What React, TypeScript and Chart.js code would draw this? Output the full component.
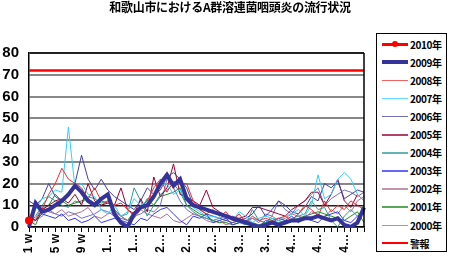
import React, { useEffect, useRef } from "react";
import { Chart, registerables } from "chart.js";

Chart.register(...registerables);

const TITLE = "和歌山市におけるA群溶連菌咽頭炎の流行状況";
const weeks: string[] = Array.from({ length: 52 }, (_, i) => `${i + 1}w`);
const tickLabels = ["1 w", "5 w", "9 w", "1…", "1…", "2…", "2…", "2…", "3…", "3…", "4…", "4…", "4…"];
const yTicks = [0, 10, 20, 30, 40, 50, 60, 70, 80];

const s2010 = [3];
const s2009 = [0, 11, 7, 8, 10, 12, 15, 19, 16, 12, 10, 13, 15, 6, 2, 0, 6, 9, 10, 14, 20, 24, 19, 22, 13, 10, 9, 8, 7, 6, 5, 4, 3, 2, 1, 0, 1, 2, 1, 2, 3, 3, 4, 4, 5, 4, 3, 4, 1, 0, 2, 9];
const s2008 = [3, 12, 8, 15, 20, 27, 22, 20, 18, 13, 18, 12, 11, 10, 11, 8, 5, 9, 12, 18, 22, 16, 21, 20, 20, 12, 8, 6, 8, 5, 7, 3, 6, 2, 5, 3, 4, 3, 4, 5, 3, 6, 10, 8, 5, 12, 7, 10, 8, 12, 10, 8];
const s2007 = [1, 8, 13, 14, 17, 16, 46, 18, 20, 15, 14, 8, 6, 10, 5, 7, 13, 10, 12, 15, 19, 20, 15, 17, 12, 9, 7, 5, 5, 4, 6, 3, 7, 5, 2, 4, 5, 4, 3, 5, 6, 8, 5, 10, 24, 13, 15, 22, 25, 22, 15, 12];
const s2006 = [12, 10, 13, 20, 14, 12, 14, 20, 33, 22, 17, 22, 17, 14, 12, 10, 8, 12, 18, 15, 17, 23, 25, 22, 18, 10, 8, 6, 5, 4, 3, 2, 3, 4, 6, 10, 5, 8, 12, 10, 7, 6, 9, 14, 12, 20, 18, 21, 13, 15, 17, 16];
const s2005 = [5, 3, 8, 10, 12, 13, 11, 15, 10, 20, 12, 10, 11, 10, 18, 8, 6, 13, 7, 23, 14, 18, 29, 15, 14, 12, 10, 17, 9, 7, 5, 3, 4, 5, 9, 9, 8, 7, 6, 5, 8, 10, 12, 16, 16, 10, 15, 22, 12, 9, 15, 12];
const s2004 = [2, 5, 10, 14, 12, 10, 9, 12, 11, 14, 13, 11, 12, 8, 5, 6, 18, 12, 5, 10, 15, 17, 20, 16, 10, 7, 5, 4, 3, 4, 5, 3, 2, 1, 8, 3, 2, 4, 3, 2, 4, 5, 6, 12, 8, 9, 3, 0, 5, 8, 5, 7];
const s2003 = [5, 3, 6, 5, 4, 6, 3, 4, 2, 3, 5, 2, 3, 4, 3, 2, 1, 4, 3, 6, 8, 9, 6, 3, 1, 5, 4, 6, 2, 3, 4, 1, 2, 3, 1, 0, 3, 2, 4, 3, 5, 2, 4, 3, 2, 5, 6, 7, 3, 2, 5, 6];
const s2002 = [6, 4, 9, 7, 6, 8, 5, 6, 7, 9, 5, 4, 6, 7, 5, 3, 4, 8, 6, 5, 4, 6, 3, 2, 4, 6, 5, 3, 2, 3, 1, 2, 3, 2, 4, 3, 2, 5, 3, 4, 6, 5, 4, 7, 6, 4, 8, 6, 10, 7, 12, 14];
const s2001 = [3, 1, 8, 10, 15, 12, 10, 11, 12, 13, 11, 10, 12, 8, 5, 3, 7, 8, 13, 10, 14, 15, 16, 18, 10, 8, 6, 5, 3, 2, 2, 1, 2, 3, 2, 1, 2, 3, 2, 3, 3, 4, 5, 6, 7, 6, 5, 4, 3, 5, 7, 2];
const s2000 = [4, 3, 5, 8, 6, 5, 7, 6, 4, 5, 6, 8, 7, 5, 4, 3, 5, 6, 8, 7, 10, 22, 18, 12, 8, 6, 5, 4, 3, 2, 3, 5, 4, 3, 4, 2, 6, 5, 12, 8, 6, 10, 12, 15, 18, 10, 13, 15, 17, 16, 14, 16];
const alertLevel = 72;
const sAlert = weeks.map(() => alertLevel);

const seriesNames = ["2010年", "2009年", "2008年", "2007年", "2006年", "2005年", "2004年", "2003年", "2002年", "2001年", "2000年", "警報"];
const seriesData = [s2010, s2009, s2008, s2007, s2006, s2005, s2004, s2003, s2002, s2001, s2000, sAlert];
const seriesColors = ["#FF0000", "#333399", "#E83030", "#33CCFF", "#4040A0", "#990033", "#339999", "#3333FF", "#B07090", "#228B22", "#7070CC", "#FF0000"];
const seriesWidths = [3, 4, 1, 1, 1, 1, 1, 1, 1, 1, 1, 2.5];

export default function App() {
  const ref = useRef<HTMLCanvasElement | null>(null);

  useEffect(() => {
    document.body.style.margin = "0";
    if (!ref.current) return;
    const chart = new Chart(ref.current, {
      type: "line",
      data: {
        labels: weeks,
        datasets: seriesNames.map((name, i) => ({
          label: name,
          data: seriesData[i],
          borderColor: seriesColors[i],
          backgroundColor: seriesColors[i],
          borderWidth: seriesWidths[i],
          pointRadius: i === 0 ? 4 : 0,
          pointBorderWidth: 0,
          tension: 0,
          fill: false,
          order: i === 1 ? 0 : i === 0 ? -1 : 1 + i,
        })),
      },
      options: {
        animation: false,
        responsive: true,
        maintainAspectRatio: false,
        layout: { padding: { top: 53, right: 85, left: 0, bottom: 0 } },
        plugins: {
          legend: { display: false },
          title: { display: false },
          tooltip: { enabled: false },
        },
        scales: {
          x: {
            offset: false,
            border: { color: "#000", width: 1.5 },
            grid: {
              drawOnChartArea: false,
              drawTicks: true,
              tickLength: 5,
              color: "#000",
            },
            ticks: {
              autoSkip: false,
              minRotation: 90,
              maxRotation: 90,
              padding: 2,
              color: "#000",
              font: { family: "Liberation Sans", size: 12, weight: "bold" },
              callback: (_v: any, idx: number) => (idx % 4 === 0 ? tickLabels[idx / 4] : ""),
            },
            afterFit: (scale: any) => {
              scale.height = 31;
            },
          },
          y: {
            min: 0,
            max: 80,
            border: { color: "#000", width: 1.5 },
            grid: {
              color: (ctx: any) => (ctx.tick && (ctx.tick.value === 10 || ctx.tick.value === 80) ? "#222" : "#888"),
              lineWidth: (ctx: any) => (ctx.tick && ctx.tick.value === 10 ? 1.5 : 2),
              drawTicks: false,
            },
            afterBuildTicks: (scale: any) => {
              scale.ticks = yTicks.map((v) => ({ value: v }));
            },
            ticks: {
              padding: 10,
              color: "#000",
              font: { family: "Liberation Sans", size: 15, weight: "bold" },
            },
            afterFit: (scale: any) => {
              scale.width = 29;
            },
          },
        },
      },
      plugins: [
        {
          id: "rightBorder",
          afterDraw: (c: any) => {
            const { ctx, chartArea } = c;
            ctx.save();
            ctx.strokeStyle = "#000";
            ctx.lineWidth = 1.5;
            ctx.beginPath();
            ctx.moveTo(chartArea.right, chartArea.top);
            ctx.lineTo(chartArea.right, chartArea.bottom);
            ctx.stroke();
            ctx.restore();
          },
        },
      ],
    });
    return () => chart.destroy();
  }, []);

  return (
    <div style={{ position: "relative", width: 449, height: 258, background: "#fff" }}>
      <canvas ref={ref} />
      <div
        style={{
          position: "absolute",
          left: 0,
          width: 460,
          top: 0,
          textAlign: "center",
          fontFamily: "'Noto Sans CJK JP', sans-serif",
          fontWeight: 700,
          fontSize: 12,
          lineHeight: "14px",
          letterSpacing: -0.3,
        }}
      >
        {TITLE}
      </div>
      <div
        style={{
          position: "absolute",
          left: 376,
          top: 33,
          width: 69,
          height: 217,
          border: "1px solid #000",
          background: "#fff",
        }}
      >
        {seriesNames.map((name, i) => (
          <div
            key={name}
            style={{
              position: "absolute",
              left: 5,
              top: 3 + i * 18.1,
              height: 14,
              display: "flex",
              alignItems: "center",
            }}
          >
            <div style={{ position: "relative", width: 26, height: 14, marginRight: 2 }}>
              <div
                style={{
                  position: "absolute",
                  left: 0,
                  width: 26,
                  top: 7 - seriesWidths[i] / 2,
                  height: Math.max(seriesWidths[i], 1.5),
                  background: seriesColors[i],
                  opacity: seriesWidths[i] === 1 ? 0.75 : 1,
                }}
              />
              {i === 0 && (
                <div
                  style={{
                    position: "absolute",
                    left: 10,
                    top: 4,
                    width: 6,
                    height: 6,
                    borderRadius: 3,
                    background: seriesColors[i],
                  }}
                />
              )}
            </div>
            <span
              style={{
                fontFamily: "'Noto Sans CJK JP', sans-serif",
                fontWeight: 700,
                fontSize: 10,
                letterSpacing: -0.4,
                color: "#000",
              }}
            >
              {name}
            </span>
          </div>
        ))}
      </div>
    </div>
  );
}
